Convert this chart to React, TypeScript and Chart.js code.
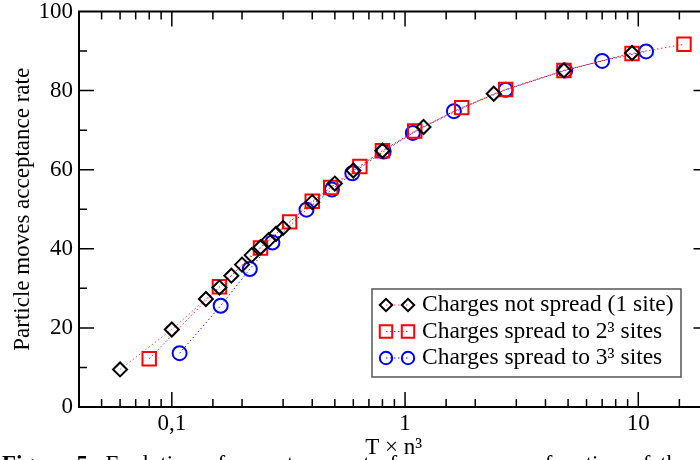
import React, { useEffect, useRef } from "react";
import { Chart, registerables } from "chart.js";

Chart.register(...registerables);

// ---- data ----
const oneSiteT = [0.06, 0.1, 0.14, 0.16, 0.18, 0.2, 0.22, 0.24, 0.26, 0.28, 0.3, 0.4, 0.5, 0.6, 0.8, 1.2, 2.4, 4.8, 9.4];
const oneSiteRate = [9.5, 19.6, 27.3, 30.2, 33.2, 36, 38.4, 40.4, 42.2, 43.8, 45.3, 51.8, 56.5, 59.8, 64.8, 70.8, 79.2, 85.1, 89.5];

const twoSitesT = [0.08, 0.16, 0.24, 0.32, 0.4, 0.48, 0.64, 0.8, 1.1, 1.75, 2.7, 4.8, 9.4, 15.7];
const twoSitesRate = [12.2, 30.4, 40.2, 46.8, 52, 55.5, 60.8, 64.8, 69.8, 75.7, 80.3, 85.1, 89.4, 91.7];

const threeSitesT = [0.108, 0.162, 0.216, 0.27, 0.378, 0.486, 0.594, 0.81, 1.08, 1.62, 2.7, 4.86, 7.0, 10.8];
const threeSitesRate = [13.6, 25.6, 34.9, 41.6, 49.9, 55, 59.1, 64.6, 69.3, 74.8, 80.2, 85.1, 87.5, 89.9];

const seriesLabels = [
  "Charges not spread (1 site)",
  "Charges spread to 2³ sites",
  "Charges spread to 3³ sites",
];

const xTickLabels: Record<string, string> = { "-1": "0,1", "0": "1", "1": "10" };
const yLabelledTicks = [0, 20, 40, 60, 80, 100];

const xTitle = "T × n³";
const yTitle = "Particle moves acceptance rate";

const FONT = "'Liberation Serif', 'Times New Roman', serif";

function isPow10(v: number) {
  const l = Math.log10(v);
  return Math.abs(l - Math.round(l)) < 1e-6;
}

function drawMarker(ctx: CanvasRenderingContext2D, style: string, x: number, y: number, r: number) {
  ctx.beginPath();
  if (style === "rectRot") {
    ctx.moveTo(x - r, y);
    ctx.lineTo(x, y - r);
    ctx.lineTo(x + r, y);
    ctx.lineTo(x, y + r);
    ctx.closePath();
  } else if (style === "rect") {
    const h = r * Math.SQRT1_2;
    ctx.rect(x - h, y - h, 2 * h, 2 * h);
  } else {
    ctx.arc(x, y, r, 0, Math.PI * 2);
  }
  ctx.stroke();
}

const frameTicks = {
  id: "frameTicks",
  beforeDatasetsDraw(chart: any) {
    const { ctx, chartArea, scales } = chart;
    const { left, right, top, bottom } = chartArea;
    const x = scales.x;
    const y = scales.y;
    ctx.save();
    ctx.strokeStyle = "#000";
    ctx.lineWidth = 1.5;
    x.ticks.forEach((t: any) => {
      const px = x.getPixelForValue(t.value);
      if (px < left + 1 || px > right - 1) return;
      const len = isPow10(t.value) ? 15 : 8;
      ctx.beginPath();
      ctx.moveTo(px, bottom);
      ctx.lineTo(px, bottom - len);
      ctx.moveTo(px, top);
      ctx.lineTo(px, top + len);
      ctx.stroke();
    });
    y.ticks.forEach((t: any) => {
      const py = y.getPixelForValue(t.value);
      if (py < top + 1 || py > bottom - 1) return;
      const len = yLabelledTicks.includes(t.value) ? 15 : 8;
      ctx.beginPath();
      ctx.moveTo(left, py);
      ctx.lineTo(left + len, py);
      ctx.moveTo(right, py);
      ctx.lineTo(right - len, py);
      ctx.stroke();
    });
    ctx.lineWidth = 2;
    ctx.strokeRect(left, top, right - left, bottom - top);
    ctx.restore();
  },
};

const boxLegend = {
  id: "boxLegend",
  afterDraw(chart: any) {
    const { ctx } = chart;
    const bx = 372, by = 289, bw = 309, bh = 88;
    ctx.save();
    ctx.fillStyle = "#fff";
    ctx.fillRect(bx, by, bw, bh);
    ctx.strokeStyle = "#555";
    ctx.lineWidth = 1.5;
    ctx.strokeRect(bx, by, bw, bh);
    chart.data.datasets.forEach((ds: any, i: number) => {
      const cy = 305 + i * 26.5;
      ctx.setLineDash([1.5, 2.5]);
      ctx.strokeStyle = ds.borderColor;
      ctx.lineWidth = 1;
      ctx.beginPath();
      ctx.moveTo(386, cy);
      ctx.lineTo(408, cy);
      ctx.stroke();
      ctx.setLineDash([]);
      ctx.strokeStyle = ds.pointBorderColor;
      ctx.lineWidth = 2;
      const r = ds.pointStyle === "rect" ? 8.8 : 6.2;
      drawMarker(ctx, ds.pointStyle, 386, cy, r);
      drawMarker(ctx, ds.pointStyle, 408, cy, r);
      ctx.fillStyle = "#000";
      ctx.font = `23.5px ${FONT}`;
      ctx.textBaseline = "middle";
      ctx.textAlign = "left";
      ctx.fillText(ds.label, 422, cy);
    });
    ctx.restore();
  },
};

export default function App() {
  const canvasRef = useRef<HTMLCanvasElement | null>(null);

  useEffect(() => {
    if (!canvasRef.current) return;
    const mk = (xs: number[], ys: number[]) => xs.map((v, i) => ({ x: v, y: ys[i] }));
    const chart = new Chart(canvasRef.current, {
      type: "line",
      data: {
        datasets: [
          {
            label: seriesLabels[0],
            data: mk(oneSiteT, oneSiteRate),
            borderColor: "rgba(255,40,40,0.85)",
            borderWidth: 1,
            borderDash: [1.5, 2.5],
            pointStyle: "rectRot",
            pointRadius: 7,
            pointBorderColor: "#000",
            pointBackgroundColor: "rgba(0,0,0,0)",
            pointBorderWidth: 2,
            fill: false,
            tension: 0,
          },
          {
            label: seriesLabels[1],
            data: mk(twoSitesT, twoSitesRate),
            borderColor: "rgba(255,0,0,0.85)",
            borderWidth: 1,
            borderDash: [1.5, 2.5],
            pointStyle: "rect",
            pointRadius: 9.5,
            pointBorderColor: "#ff0000",
            pointBackgroundColor: "rgba(0,0,0,0)",
            pointBorderWidth: 2,
            fill: false,
            tension: 0,
          },
          {
            label: seriesLabels[2],
            data: mk(threeSitesT, threeSitesRate),
            borderColor: "rgba(0,0,255,0.85)",
            borderWidth: 1,
            borderDash: [1.5, 2.5],
            pointStyle: "circle",
            pointRadius: 7,
            pointBorderColor: "#0000ff",
            pointBackgroundColor: "rgba(0,0,0,0)",
            pointBorderWidth: 2,
            fill: false,
            tension: 0,
          },
        ],
      },
      options: {
        animation: false,
        responsive: false,
        devicePixelRatio: 1,
        layout: { padding: { top: 11, right: 11, left: 0, bottom: 0 } },
        plugins: { legend: { display: false }, tooltip: { enabled: false } },
        scales: {
          x: {
            type: "logarithmic",
            min: 0.04,
            max: 20,
            grid: { display: false, drawTicks: false },
            border: { display: false },
            ticks: {
              color: "#000",
              font: { family: FONT, size: 23 },
              padding: 3,
              autoSkip: false,
              maxRotation: 0,
              callback: (v: any) => {
                const n = Number(v);
                if (!isPow10(n)) return "";
                return xTickLabels[String(Math.round(Math.log10(n)))] ?? "";
              },
            },
            title: {
              display: true,
              text: xTitle,
              color: "#000",
              font: { family: FONT, size: 23 },
              padding: { top: 0, bottom: -2 },
            },
            afterFit: (s: any) => {
              s.height = 53;
              s.paddingLeft = 0;
              s.paddingRight = 0;
            },
          },
          y: {
            min: 0,
            max: 100,
            grid: { display: false, drawTicks: false },
            border: { display: false },
            ticks: {
              stepSize: 10,
              color: "#000",
              font: { family: FONT, size: 23 },
              padding: 6,
              autoSkip: false,
              callback: (v: any) => (yLabelledTicks.includes(Number(v)) ? String(v) : ""),
            },
            title: {
              display: true,
              text: yTitle,
              color: "#000",
              font: { family: FONT, size: 23 },
              padding: { top: 9, bottom: 0 },
            },
            afterFit: (s: any) => {
              s.width = 79;
              s.paddingTop = 0;
              s.paddingBottom = 0;
            },
          },
        },
      },
      plugins: [frameTicks, boxLegend],
    });
    return () => chart.destroy();
  }, []);

  return (
    <div
      style={{
        position: "fixed",
        left: 0,
        top: 0,
        width: 700,
        height: 460,
        overflow: "hidden",
        background: "#fff",
      }}
    >
      <canvas ref={canvasRef} width={720} height={460} style={{ display: "block" }} />
      <div
        style={{
          position: "absolute",
          left: 2,
          top: 452,
          whiteSpace: "nowrap",
          fontFamily: FONT,
          fontSize: 23,
          lineHeight: "23px",
          wordSpacing: 4,
          color: "#000",
        }}
      >
        <b>Figure 5:</b> Evolution of acceptance rate for moves as a function of the charge spreading
      </div>
    </div>
  );
}
